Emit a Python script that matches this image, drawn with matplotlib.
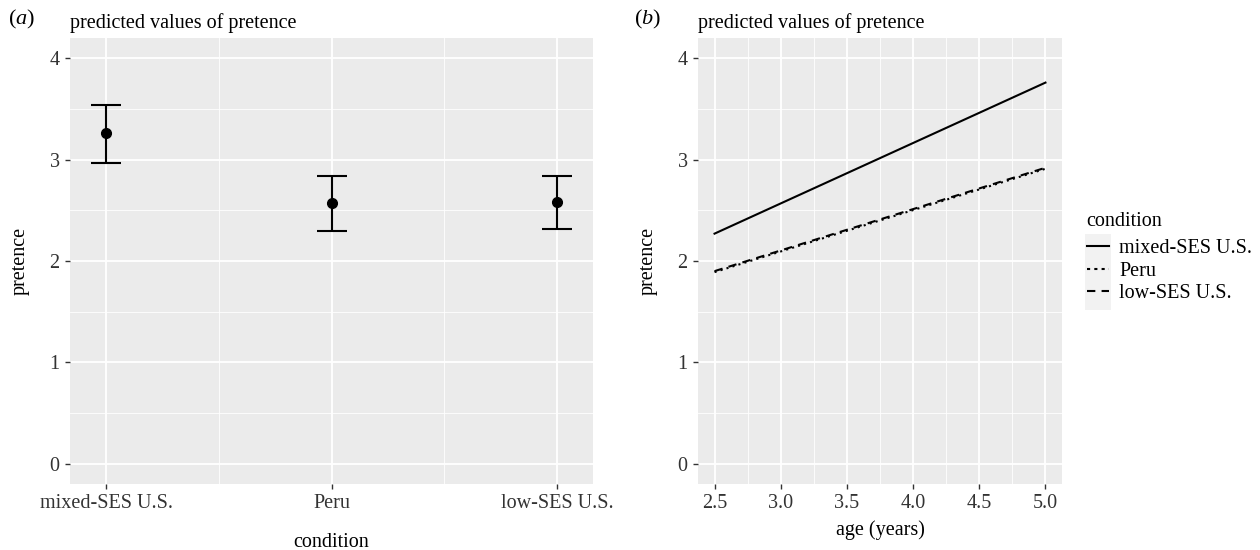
import matplotlib
matplotlib.use("Agg")
import matplotlib.pyplot as plt
from matplotlib.patches import Rectangle
from matplotlib.lines import Line2D

plt.rcParams["font.family"] = ["Liberation Serif", "DejaVu Serif"]
plt.rcParams["mathtext.fontset"] = "custom"
plt.rcParams["mathtext.rm"] = "Liberation Serif"
plt.rcParams["mathtext.it"] = "Liberation Serif:italic"

# panel (a): predicted pretence by condition
conditions = ["mixed-SES U.S.", "Peru", "low-SES U.S."]
pred_mean = [3.26, 2.57, 2.58]
pred_low = [2.97, 2.30, 2.32]
pred_high = [3.54, 2.84, 2.84]

# panel (b): predicted pretence by age, per condition
age = [2.5, 5.0]
line_mixed = [2.27, 3.76]
line_peru = [1.89, 2.91]
line_low = [1.90, 2.92]
age_ticks = [2.5, 3.0, 3.5, 4.0, 4.5, 5.0]

PANEL_BG = "#EBEBEB"
TICK_COL = "#333333"
FS = 14.5


def gg_style(ax, ylabelpad):
    ax.set_facecolor(PANEL_BG)
    for s in ax.spines.values():
        s.set_visible(False)
    ax.grid(which="major", color="white", lw=1.3)
    ax.grid(which="minor", color="white", lw=0.6)
    ax.set_axisbelow(True)
    ax.tick_params(which="major", length=3.5, width=1.0, color="#333333",
                   labelsize=FS, labelcolor=TICK_COL, pad=4)
    ax.tick_params(which="minor", length=0)
    ax.set_ylim(-0.2, 4.2)
    ax.set_yticks([0, 1, 2, 3, 4])
    ax.set_yticks([0.5, 1.5, 2.5, 3.5], minor=True)
    ax.set_ylabel("pretence", fontsize=FS, labelpad=ylabelpad)
    ax.set_title("predicted values of pretence", fontsize=FS, loc="left", pad=7)


fig = plt.figure(figsize=(12.6, 5.5), dpi=100)
W, H = 1260, 550
ax1 = fig.add_axes([70 / W, (H - 484) / H, (593 - 70) / W, (484 - 38) / H])
ax2 = fig.add_axes([698 / W, (H - 484) / H, (1062 - 698) / W, (484 - 38) / H])

# panel (a)
gg_style(ax1, 14)
xpos = list(range(1, len(conditions) + 1))
yerr = [[m - lo for m, lo in zip(pred_mean, pred_low)],
        [hi - m for m, hi in zip(pred_mean, pred_high)]]
ax1.errorbar(xpos, pred_mean, yerr=yerr, fmt="o", color="black", ms=7,
             elinewidth=1.5, capsize=11, capthick=1.5, zorder=3)
ax1.set_xlim(0.84, 3.16)
ax1.set_xticks(xpos)
ax1.set_xticklabels(conditions)
ax1.set_xticks([1.5, 2.5], minor=True)
ax1.set_xlabel("condition", fontsize=FS, labelpad=14)

# panel (b)
gg_style(ax2, 14)
ax2.plot(age, line_mixed, color="black", lw=1.5, ls="-", label="mixed-SES U.S.")
ax2.plot(age, line_peru, color="black", lw=1.5, ls=(0, (1, 2)), label="Peru")
ax2.plot(age, line_low, color="black", lw=1.5, ls=(0, (4, 3)), label="low-SES U.S.")
ax2.set_xlim(2.375, 5.125)
ax2.set_xticks(age_ticks)
ax2.set_xticklabels([f"{t:.1f}" for t in age_ticks])
ax2.set_xticks([2.75, 3.25, 3.75, 4.25, 4.75], minor=True)
ax2.set_xlabel("age (years)", fontsize=FS, labelpad=5)

# panel letters
fig.text(8 / W, 1 - 19 / H, r"($\mathit{a}$)", fontsize=16, va="center",
         ha="left")
fig.text(634 / W, 1 - 19 / H, r"($\mathit{b}$)", fontsize=16, va="center",
         ha="left")

# legend: title, grey key background, entries
fig.text(1086 / W, 1 - 221 / H, "condition", fontsize=FS, va="center",
         ha="left")
fig.patches.append(Rectangle((1085 / W, 1 - 310 / H), 26 / W, 76 / H,
                             transform=fig.transFigure, facecolor="#F2F2F2",
                             edgecolor="none"))
handles = [Line2D([], [], color="black", lw=1.5, ls="-"),
           Line2D([], [], color="black", lw=1.5, ls=(0, (1.5, 2))),
           Line2D([], [], color="black", lw=1.5, ls=(0, (4, 3)))]
fig.legend(handles, conditions, loc="upper left",
           bbox_to_anchor=(1087 / W, 1 - 239 / H), frameon=False,
           fontsize=FS, handlelength=1.1, borderpad=0, borderaxespad=0,
           handletextpad=0.5, labelspacing=0.17)

fig.savefig("out.png", dpi=100)
